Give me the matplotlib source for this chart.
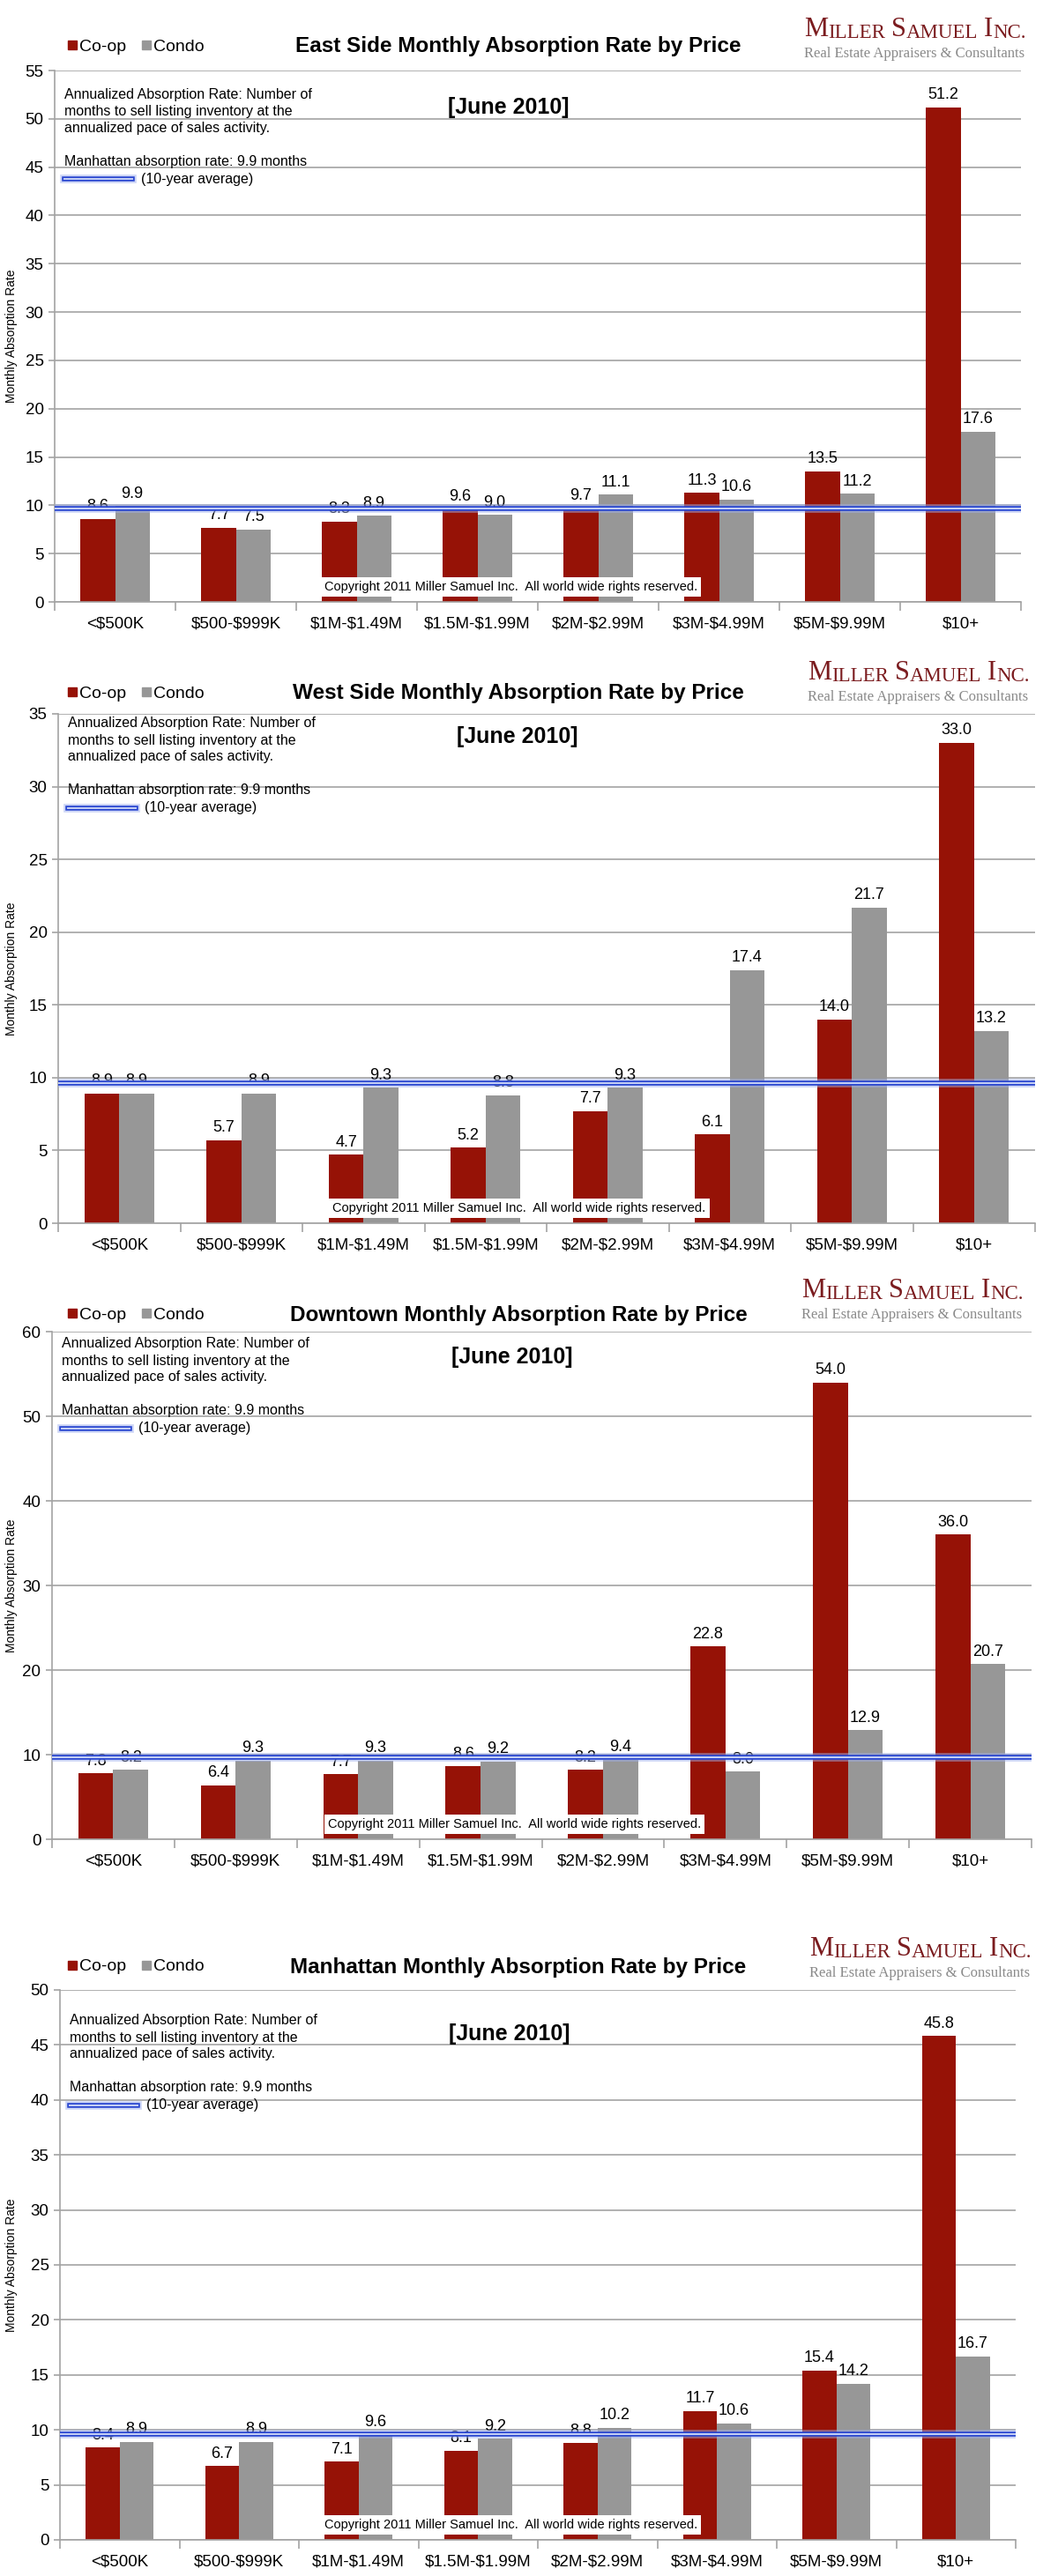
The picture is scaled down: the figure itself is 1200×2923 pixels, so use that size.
import numpy as np
import matplotlib
matplotlib.use("Agg")
import matplotlib.pyplot as plt
from matplotlib.lines import Line2D
from matplotlib.text import Annotation

plt.rcParams['font.family'] = ['Liberation Sans', 'DejaVu Sans']
plt.rcParams['text.parse_math'] = False

# ---- data ----
price_bands = ["<$500K", "$500-$999K", "$1M-$1.49M", "$1.5M-$1.99M",
               "$2M-$2.99M", "$3M-$4.99M", "$5M-$9.99M", "$10+"]

east_coop = [8.6, 7.7, 8.3, 9.6, 9.7, 11.3, 13.5, 51.2]
east_condo = [9.9, 7.5, 8.9, 9.0, 11.1, 10.6, 11.2, 17.6]

west_coop = [8.9, 5.7, 4.7, 5.2, 7.7, 6.1, 14.0, 33.0]
west_condo = [8.9, 8.9, 9.3, 8.8, 9.3, 17.4, 21.7, 13.2]

downtown_coop = [7.8, 6.4, 7.7, 8.6, 8.2, 22.8, 54.0, 36.0]
downtown_condo = [8.2, 9.3, 9.3, 9.2, 9.4, 8.0, 12.9, 20.7]

manhattan_coop = [8.4, 6.7, 7.1, 8.1, 8.8, 11.7, 15.4, 45.8]
manhattan_condo = [8.9, 8.9, 9.6, 9.2, 10.2, 10.6, 14.2, 16.7]

titles = ["East Side Monthly Absorption Rate by Price",
          "West Side Monthly Absorption Rate by Price",
          "Downtown Monthly Absorption Rate by Price",
          "Manhattan Monthly Absorption Rate by Price"]

avg_rate = 9.65   # 10-year Manhattan average line (drawn as in the original)

note_lines = ["Annualized Absorption Rate: Number of",
              "months to sell listing inventory at the",
              "annualized pace of sales activity.",
              "",
              "Manhattan absorption rate: 9.9 months"]

# ---- layout (pixels): left, right, top, bottom, ymax, step, note offset ----
W, H = 1200, 2923
panels = [
    (62, 1158, 80, 683, 55, 5, 19, east_coop, east_condo),
    (66, 1174, 810, 1388, 35, 5, 3, west_coop, west_condo),
    (59, 1170, 1511, 2087, 60, 10, 6, downtown_coop, downtown_condo),
    (68, 1152, 2258, 2882, 50, 5, 27, manhattan_coop, manhattan_condo),
]
title_dy = [27, 23, 19, 26]

RED = '#961206'
GRAY = '#979797'
GRID = '#a3a3a3'


def fx(px):
    return px / W


def fy(py):
    return 1 - py / H


fig = plt.figure(figsize=(W / 100, H / 100), dpi=100)


def logo(x, y):
    pieces = [("M", 22, 0), ("ILLER", 16.5, 0), ("S", 22, 5), ("AMUEL", 16.5, 0),
              ("I", 22, 5), ("NC.", 16.5, 0)]
    prev = fig.text(fx(x), fy(y), pieces[0][0], fontsize=pieces[0][1],
                    family='Liberation Serif', color='#7b1c1f', va='bottom')
    for txt, size, gap in pieces[1:]:
        ann = Annotation(txt, xy=(1, 0), xycoords=prev, xytext=(gap, 0),
                         textcoords='offset points', fontsize=size,
                         family='Liberation Serif', color='#7b1c1f',
                         va='bottom', ha='left')
        fig.add_artist(ann)
        prev = ann


for i, (L, R, T, B, ymax, step, note_dy, coop, condo) in enumerate(panels):
    ax = fig.add_axes([fx(L), fy(B), (R - L) / W, (B - T) / H])
    x = np.arange(len(price_bands))
    w = 0.285
    ax.bar(x - w / 2, coop, w, color=RED, zorder=2)
    ax.bar(x + w / 2, condo, w, color=GRAY, zorder=2)
    ax.set_xlim(-0.5, len(price_bands) - 0.5)
    ax.set_ylim(0, ymax)
    ax.set_yticks(np.arange(0, ymax + 1, step))
    ax.yaxis.grid(True, color=GRID, lw=1.2)
    ax.set_axisbelow(True)
    for s in ['top', 'right']:
        ax.spines[s].set_visible(False)
    for s in ['left', 'bottom']:
        ax.spines[s].set_color(GRID)
        ax.spines[s].set_linewidth(1.2)
    ax.set_xticks(x)
    ax.set_xticklabels(price_bands, fontsize=13.5)
    ax.set_xticks(np.arange(-0.5, len(price_bands), 1), minor=True)
    ax.tick_params(axis='x', which='major', length=0, pad=12)
    ax.tick_params(axis='x', which='minor', length=7, color=GRID, width=1.2)
    ax.tick_params(axis='y', length=5, color=GRID, width=1.2, labelsize=13.5, pad=4)

    for xs, vals in [(x - w / 2, coop), (x + w / 2, condo)]:
        for xv, v in zip(xs, vals):
            ax.annotate(f"{v:.1f}", (xv, v), xytext=(0, 4), textcoords='offset points',
                        ha='center', va='bottom', fontsize=13, zorder=3)

    # 10-year average line
    ax.axhline(avg_rate, color='#9fb0ee', lw=7, alpha=0.5, zorder=4)
    ax.axhline(avg_rate, color='#2a47d0', lw=4, zorder=4)
    ax.axhline(avg_rate, color='#c8d2f6', lw=1.4, zorder=4)

    # notes in upper left
    for k, line in enumerate(note_lines):
        if line:
            ax.annotate(line, xy=(0, 1), xycoords='axes fraction',
                        xytext=(11, -(note_dy + 8 + 19 * k)), textcoords='offset pixels',
                        va='center', ha='left', fontsize=11.5)
    yk = -(note_dy + 8 + 19 * 5 + 1)
    ax.annotate("(10-year average)", xy=(0, 1), xycoords='axes fraction',
                xytext=(98, yk), textcoords='offset pixels',
                va='center', ha='left', fontsize=11.5)
    ly = fy(T - yk)
    for c, lw_, a in [('#9fb0ee', 7, 0.5), ('#2a47d0', 4, 1), ('#c8d2f6', 1.4, 1)]:
        fig.add_artist(Line2D([fx(L + 11), fx(L + 88)], [ly, ly], color=c, lw=lw_,
                              alpha=a, transform=fig.transFigure))

    # copyright box
    ax.annotate("Copyright 2011 Miller Samuel Inc.  All world wide rights reserved.",
                xy=(0.472, 0), xycoords='axes fraction', xytext=(0, 10),
                textcoords='offset pixels', ha='center', va='bottom', fontsize=10.5,
                zorder=6, bbox=dict(facecolor='white', edgecolor='none', pad=3))

    # "[June 2010]"
    ax.annotate("[June 2010]", xy=(0.47, 1), xycoords='axes fraction',
                xytext=(0, -(note_dy + 3 + 20)), textcoords='offset pixels',
                ha='center', va='center', fontsize=18, fontweight='bold')

    # header: legend, title, logo
    ty = T - title_dy[i]
    fig.text(fx(588), fy(ty), titles[i], ha='center', va='center',
             fontsize=17.5, fontweight='bold')
    fig.add_artist(Line2D([fx(82)], [fy(ty - 2)], marker='s', ms=6.5, color=RED,
                          transform=fig.transFigure))
    fig.text(fx(90), fy(ty), "Co-op", va='center', fontsize=14)
    fig.add_artist(Line2D([fx(166)], [fy(ty - 2)], marker='s', ms=6.5, color=GRAY,
                          transform=fig.transFigure))
    fig.text(fx(174), fy(ty), "Condo", va='center', fontsize=14)

    logo(L + 850, T - 32)
    fig.text(fx(L + 850), fy(T - 19), "Real Estate Appraisers & Consultants",
             family='Liberation Serif', color='#8a8a8a', fontsize=12, va='center')

    fig.text(fx(13), fy((T + B) / 2), "Monthly Absorption Rate", rotation=90,
             ha='center', va='center', fontsize=10)

fig.savefig("out.png", dpi=100)
